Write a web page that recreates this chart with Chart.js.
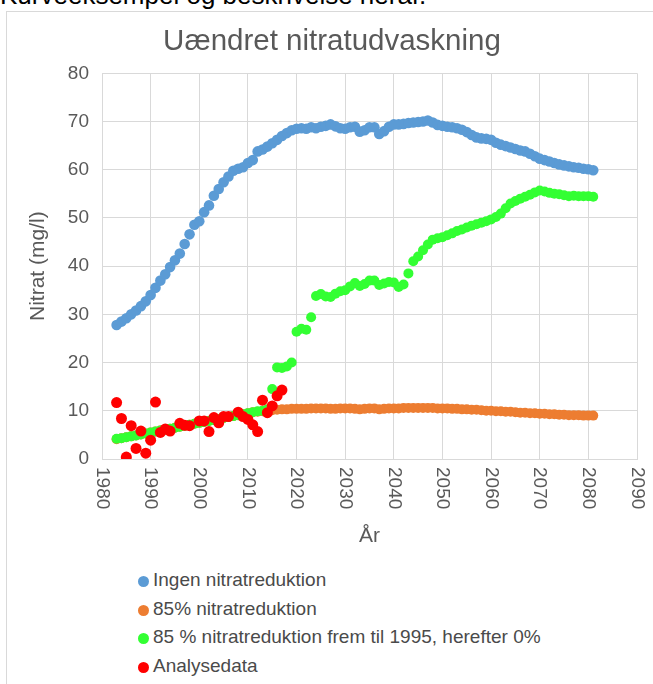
<!DOCTYPE html>
<html>
<head>
<meta charset="utf-8">
<script src="https://cdn.jsdelivr.net/npm/chart.js@4"></script>
<style>
  html, body { margin: 0; padding: 0; width: 653px; height: 684px; overflow: hidden; background: #fff; }
  body { position: relative; font-family: "Liberation Sans", Arial, sans-serif; }
  #heading { position: absolute; left: 0; top: -18px; font-size: 26px; line-height: 26px; color: #000; white-space: nowrap; }
  #frame { position: absolute; left: 6px; top: 11px; width: 700px; height: 700px; border: 1px solid #d9d9d9; }
  #legend { position: absolute; left: 138px; top: 566px; font-size: 19px; color: #4a4a4a; }
  #legend .item { height: 28.7px; line-height: 28.7px; white-space: nowrap; }
  #legend .dot { display: inline-block; width: 11px; height: 11px; border-radius: 50%; margin-right: 4px; vertical-align: -1px; }
</style>
</head>
<body>
<div id="heading">Kurveeksempel og beskrivelse heraf.</div>
<div id="frame"></div>
<canvas id="nitratChart" width="665" height="560" style="position:absolute;left:0;top:0;"></canvas>
<div id="legend"></div>
<script>
const years = Array.from({length: 99}, (_, i) => 1983 + i);

const ingen = [
  27.8, 28.5, 29.2, 30.0, 30.8, 31.7, 32.7,
  34.0, 35.5, 37.0, 38.3, 39.8, 41.2, 42.6, 44.6, 46.6, 48.6,
  49.3, 51.2, 52.6, 54.6, 56.0, 57.4, 58.6, 59.8, 60.2, 60.5,
  61.4, 62.0, 63.8, 64.2, 64.8, 65.5, 66.2, 67.0, 67.6, 68.2,
  68.5, 68.6, 68.5, 68.8, 68.6, 68.9, 69.1, 69.4, 69.0, 68.6,
  68.5, 68.8, 68.9, 67.9, 68.2, 68.8, 68.8, 67.4, 68.0, 68.9,
  69.4, 69.4, 69.5, 69.7, 69.8, 69.9, 70.0, 70.2, 69.8, 69.3,
  69.1, 68.9, 68.8, 68.6, 68.3, 67.8, 67.2, 66.7, 66.5, 66.4,
  66.2, 65.6, 65.2, 64.9, 64.6, 64.3, 64.0, 63.8, 63.3, 62.8,
  62.3, 62.0, 61.7, 61.4, 61.1, 60.9, 60.7, 60.5, 60.4, 60.2,
  60.1, 59.9
];

const reduktion85 = [
  4.1, 4.3, 4.5, 4.7, 4.9, 5.1, 5.3,
  5.5, 5.7, 5.9, 6.1, 6.3, 6.5, 6.7, 6.9, 7.1, 7.3,
  7.5, 7.7, 7.9, 8.1, 8.3, 8.5, 8.7, 8.9, 9.1, 9.3,
  9.5, 9.7, 9.8, 9.9, 10.0, 10.1, 10.2, 10.3, 10.3, 10.4,
  10.4, 10.4, 10.4, 10.5, 10.5, 10.5, 10.5, 10.4, 10.4, 10.5,
  10.5, 10.5, 10.4, 10.3, 10.4, 10.5, 10.5, 10.3, 10.4, 10.5,
  10.5, 10.5, 10.6, 10.6, 10.6, 10.6, 10.6, 10.6, 10.6, 10.5,
  10.5, 10.5, 10.4, 10.4, 10.3, 10.3, 10.2, 10.2, 10.1, 10.0,
  10.0, 9.9, 9.9, 9.8, 9.8, 9.7, 9.6, 9.6, 9.5, 9.5,
  9.4, 9.4, 9.3, 9.3, 9.2, 9.2, 9.1, 9.1, 9.1, 9.0,
  9.0, 9.0
];

const frem1995 = [
  4.2, 4.3, 4.5, 4.7, 4.9, 5.1, 5.3,
  5.5, 5.7, 5.9, 6.1, 6.3, 6.5, 6.7, 6.9, 7.1, 7.3,
  7.5, 7.7, 7.9, 8.1, 8.3, 8.5, 8.7, 8.9, 9.1, 9.3,
  9.5, 9.7, 9.9, 10.0, 10.3, 14.5, 19.0, 18.9, 19.2, 20.0,
  26.4, 27.0, 26.8, 29.4, 33.8, 34.2, 33.7, 33.6, 34.3, 34.8,
  35.0, 35.8, 36.5, 35.9, 36.3, 37.0, 37.0, 36.1, 36.4, 36.7,
  36.6, 35.7, 36.2, 38.5, 41.0, 42.0, 43.3, 44.5, 45.5, 45.8,
  46.0, 46.4, 46.8, 47.3, 47.6, 48.0, 48.4, 48.7, 49.0, 49.3,
  49.7, 50.2, 50.9, 52.0, 53.0, 53.5, 54.0, 54.4, 54.8, 55.3,
  55.7, 55.5, 55.2, 55.0, 54.9, 54.7, 54.5, 54.6, 54.5, 54.5,
  54.5, 54.4
];

const analyseYears = [1983, 1984, 1985, 1986, 1987, 1988, 1989, 1990, 1991, 1992, 1993, 1994,
  1996, 1997, 1998, 2000, 2001, 2002, 2003, 2004, 2005, 2006, 2008, 2009, 2010, 2011,
  2012, 2013, 2014, 2015, 2016, 2017];
const analyseValues = [11.7, 8.4, 0.4, 6.9, 2.2, 5.8, 1.2, 3.9, 11.8, 5.5, 6.2, 5.8,
  7.4, 7.0, 6.9, 7.9, 7.9, 5.7, 8.6, 7.5, 8.8, 8.8, 9.7, 8.8, 8.2, 7.1,
  5.7, 12.2, 9.6, 11.0, 13.1, 14.3];

const xTicks = [1980, 1990, 2000, 2010, 2020, 2030, 2040, 2050, 2060, 2070, 2080, 2090];
const yTicks = [0, 10, 20, 30, 40, 50, 60, 70, 80];

const FONT = '"Liberation Sans", Arial, sans-serif';
const GREY = '#595959';

const pairs = (xs, ys) => xs.map((x, i) => ({x, y: ys[i]}));

function series(label, xs, ys, color, order, radius) {
  return {
    label,
    data: pairs(xs, ys),
    backgroundColor: color,
    borderColor: color,
    borderWidth: 0,
    pointRadius: radius,
    pointHoverRadius: radius,
    order
  };
}

// x labels read top-to-bottom, so draw them ourselves
const verticalLabels = {
  id: 'verticalLabels',
  afterDraw(chart) {
    const {ctx, chartArea} = chart;
    const x = chart.scales.x;
    ctx.save();
    ctx.font = '19px ' + FONT;
    ctx.fillStyle = GREY;
    ctx.textAlign = 'left';
    ctx.textBaseline = 'middle';
    xTicks.forEach(v => {
      ctx.save();
      ctx.translate(x.getPixelForValue(v), chartArea.bottom + 8);
      ctx.rotate(Math.PI / 2);
      ctx.fillText(String(v), 0, 0);
      ctx.restore();
    });
    ctx.restore();
  }
};

const ctx = document.getElementById('nitratChart').getContext('2d');

const chart = new Chart(ctx, {
  type: 'scatter',
  data: {
    datasets: [
      series('Ingen nitratreduktion', years, ingen, '#5B9BD5', 4, 5.3),
      series('85% nitratreduktion', years, reduktion85, '#ED7D31', 3, 5),
      series('85 % nitratreduktion frem til 1995, herefter 0%', years, frem1995, '#33FF33', 2, 5),
      series('Analysedata', analyseYears, analyseValues, '#FF0000', 1, 5.5)
    ]
  },
  options: {
    responsive: false,
    animation: false,
    devicePixelRatio: 1,
    layout: { padding: { left: 27, right: 28, top: 0, bottom: 0 } },
    scales: {
      x: {
        type: 'linear',
        min: 1980,
        max: 2090,
        afterBuildTicks: s => { s.ticks = xTicks.map(v => ({value: v})); },
        afterFit: s => { s.height = 101; },
        ticks: { display: false },
        grid: { color: '#d9d9d9', lineWidth: 1, drawTicks: false },
        border: { color: '#d9d9d9' },
        title: {
          display: true,
          text: 'År',
          color: GREY,
          font: { family: FONT, size: 21 },
          padding: { top: 0, bottom: 11 }
        }
      },
      y: {
        min: 0,
        max: 80,
        afterBuildTicks: s => { s.ticks = yTicks.map(v => ({value: v})); },
        afterFit: s => { s.width = 75; },
        ticks: { color: GREY, font: { family: FONT, size: 19 }, padding: 13 },
        grid: { color: '#d9d9d9', lineWidth: 1, drawTicks: false },
        border: { color: '#d9d9d9' },
        title: {
          display: true,
          text: 'Nitrat (mg/l)',
          color: GREY,
          font: { family: FONT, size: 21, lineHeight: 1.1 },
          padding: { top: 0, bottom: 0 }
        }
      }
    },
    plugins: {
      title: {
        display: true,
        text: 'Uændret nitratudvaskning',
        color: GREY,
        font: { family: FONT, size: 29.5, weight: 'normal' },
        padding: { top: 24, bottom: 13.9 }
      },
      legend: { display: false },
      tooltip: { enabled: false }
    }
  },
  plugins: [verticalLabels]
});

// legend below the chart, one series per line
const legendBox = document.getElementById('legend');
chart.data.datasets.forEach(ds => {
  const row = document.createElement('div');
  row.className = 'item';
  const dot = document.createElement('span');
  dot.className = 'dot';
  dot.style.background = ds.backgroundColor;
  row.appendChild(dot);
  row.appendChild(document.createTextNode(ds.label));
  legendBox.appendChild(row);
});
</script>
</body>
</html>
